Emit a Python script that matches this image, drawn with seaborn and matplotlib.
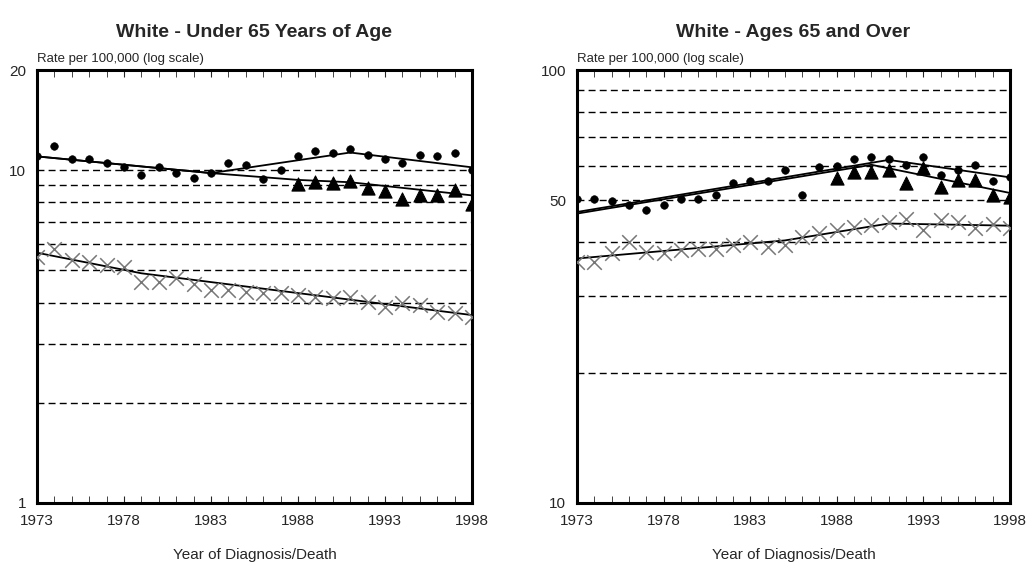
import numpy as np
import pandas as pd
import seaborn as sns
import matplotlib.pyplot as plt
from matplotlib.ticker import FixedLocator, NullLocator

years = list(range(1973, 1999))
tri_years = list(range(1988, 1999))

# Left panel: White - Under 65
l_circ = [11.0, 11.8, 10.8, 10.8, 10.5, 10.2, 9.7, 10.2, 9.8, 9.5, 9.8, 10.5, 10.4,
          9.4, 10.0, 11.0, 11.4, 11.3, 11.6, 11.1, 10.8, 10.5, 11.1, 11.0, 11.3, 10.0]
l_tri = [9.1, 9.2, 9.15, 9.3, 8.85, 8.67, 8.18, 8.43, 8.43, 8.73, 7.9]
l_x = [5.5, 5.8, 5.37, 5.3, 5.2, 5.13, 4.62, 4.62, 4.73, 4.55, 4.37, 4.37, 4.32,
       4.27, 4.27, 4.21, 4.16, 4.12, 4.16, 4.02, 3.89, 3.98, 3.94, 3.76, 3.72, 3.63]
l_circ_trend_yr = [1973, 1983, 1991, 1998]; l_circ_trend = [11.0, 9.8, 11.3, 10.2]
l_tri_trend_yr = [1973, 1983, 1988, 1991, 1998]; l_tri_trend = [11.0, 9.8, 9.35, 9.2, 8.4]
l_x_trend_yr = [1973, 1979, 1998]; l_x_trend = [5.65, 4.9, 3.67]

# Right panel: White - Ages 65 and Over
r_circ = [50.3, 50.3, 49.7, 48.9, 47.6, 48.9, 50.3, 50.3, 51.5, 54.8, 55.3, 55.3, 58.9,
          51.5, 59.6, 60.1, 62.3, 62.8, 62.3, 60.4, 62.8, 57.1, 58.7, 60.4, 55.3, 56.5]
r_tri = [56.3, 58.2, 58.2, 58.9, 54.8, 59.4, 53.7, 55.6, 55.6, 51.5, 51.0]
r_x = [36.1, 36.1, 37.8, 40.1, 38.0, 37.7, 38.4, 38.5, 38.5, 39.4, 40.1, 39.1, 39.4,
       41.2, 42.0, 42.7, 43.4, 43.8, 44.6, 45.2, 42.7, 45.0, 44.6, 43.1, 44.2, 43.1]
r_circ_trend_yr = [1973, 1991, 1998]; r_circ_trend = [47.0, 62.0, 56.5]
r_tri_trend_yr = [1973, 1990, 1998]; r_tri_trend = [46.6, 60.4, 52.0]
r_x_trend_yr = [1973, 1985, 1991, 1998]; r_x_trend = [36.7, 40.4, 44.2, 43.7]

sns.set_style("white")
plt.rcParams['font.family'] = ['Liberation Sans', 'DejaVu Sans']

fig = plt.figure(figsize=(10.29, 5.75), dpi=100)
W, H = 1029, 575
axL = fig.add_axes([37/W, 1-503/H, 435/W, 433/H])
axR = fig.add_axes([577/W, 1-503/H, 433/W, 433/H])

def panel(ax, circ, tri, xs, trends, ylim, grid, yticks, title):
    for ty, tv in trends:
        sns.lineplot(x=ty, y=tv, ax=ax, color='black', lw=1.3, zorder=3)
    sns.scatterplot(x=years, y=circ, ax=ax, marker='o', s=30, color='black', edgecolor='black', zorder=4)
    sns.scatterplot(x=tri_years, y=tri, ax=ax, marker='^', s=90, color='black', edgecolor='black', zorder=4)
    sns.scatterplot(x=years, y=xs, ax=ax, marker='x', s=110, color='#777777', linewidth=1.1, zorder=4)
    ax.set_yscale('log')
    ax.set_ylim(*ylim)
    ax.set_xlim(1973, 1998)
    for g in grid:
        ax.axhline(g, color='black', ls=(0, (5, 3)), lw=1.0, zorder=1)
    ax.yaxis.set_major_locator(FixedLocator(yticks))
    ax.yaxis.set_major_formatter(plt.FixedFormatter([str(t) for t in yticks]))
    ax.yaxis.set_minor_locator(NullLocator())
    ax.set_xticks([1973, 1978, 1983, 1988, 1993, 1998])
    ax.set_xticks(years, minor=True)
    ax.tick_params(axis='x', which='both', direction='in', top=True, bottom=True, length=5, labelsize=11, pad=8)
    ax.tick_params(axis='y', direction='out', length=0, labelsize=11, pad=8)
    for s in ax.spines.values():
        s.set_linewidth(2.2); s.set_color('black')
    ax.set_xlabel('Year of Diagnosis/Death', fontsize=11, labelpad=14)
    ax.set_ylabel('')
    ax.set_title(title, fontsize=14, fontweight='bold', pad=24)
    ax.text(0.0, 1.012, 'Rate per 100,000 (log scale)', transform=ax.transAxes, fontsize=9.5, va='bottom')

panel(axL, l_circ, l_tri, l_x,
      [(l_circ_trend_yr, l_circ_trend), (l_tri_trend_yr, l_tri_trend), (l_x_trend_yr, l_x_trend)],
      (1, 20), [2, 3, 4, 5, 6, 7, 8, 9, 10], [1, 10, 20], 'White - Under 65 Years of Age')
panel(axR, r_circ, r_tri, r_x,
      [(r_circ_trend_yr, r_circ_trend), (r_tri_trend_yr, r_tri_trend), (r_x_trend_yr, r_x_trend)],
      (10, 100), [20, 30, 40, 50, 60, 70, 80, 90], [10, 50, 100], 'White - Ages 65 and Over')

fig.savefig('out.png', dpi=100)
